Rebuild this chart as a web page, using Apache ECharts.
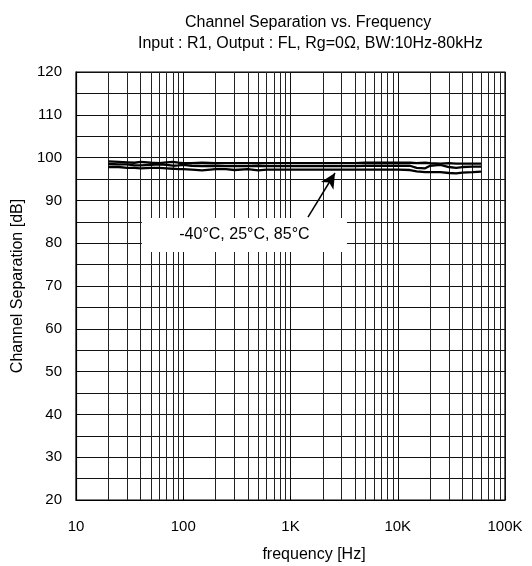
<!DOCTYPE html>
<html>
<head>
<meta charset="utf-8">
<script src="https://cdn.jsdelivr.net/npm/echarts@6/dist/echarts.min.js"></script>
<style>html,body{margin:0;padding:0;background:#fff}#c{width:532px;height:566px}</style>
</head>
<body>
<div id="c"></div>
<script>
const titleText = 'Channel Separation vs. Frequency';
const subTitleText = 'Input : R1, Output : FL, Rg=0\u03A9, BW:10Hz-80kHz';
const xName = 'frequency [Hz]';
const yName = 'Channel Separation [dB]';
const annotText = '-40\u00B0C, 25\u00B0C, 85\u00B0C';

const freqs = [20, 25, 30, 35, 40, 50, 60, 70, 80, 90, 100, 120, 150, 200, 250, 300, 400, 500, 600, 700, 800, 1000, 1500, 2000, 3000, 4000, 5000, 7000, 10000, 13000, 15000, 18000, 20000, 25000, 30000, 35000, 40000, 50000, 60000];
const sepA = [99.1, 99.0, 98.9, 98.8, 99.0, 98.8, 98.7, 98.9, 99.0, 98.8, 98.7, 98.7, 98.8, 98.7, 98.7, 98.7, 98.7, 98.7, 98.7, 98.7, 98.7, 98.7, 98.7, 98.7, 98.7, 98.7, 98.8, 98.8, 98.8, 98.8, 98.7, 98.8, 98.7, 98.6, 98.7, 98.6, 98.6, 98.6, 98.6];
const sepB = [98.5, 98.4, 98.4, 98.2, 98.2, 98.3, 98.4, 98.3, 98.1, 98.2, 98.3, 98.1, 98.0, 98.1, 98.0, 98.0, 98.0, 98.1, 98.0, 98.0, 98.0, 98.0, 98.0, 98.0, 98.0, 98.0, 98.1, 98.1, 98.1, 98.1, 97.6, 97.5, 98.1, 98.3, 97.8, 97.6, 97.8, 97.9, 97.9];
const sepC = [97.8, 97.8, 97.6, 97.6, 97.5, 97.6, 97.6, 97.5, 97.4, 97.3, 97.3, 97.2, 97.0, 97.3, 97.3, 97.1, 97.3, 97.0, 97.2, 97.2, 97.2, 97.2, 97.2, 97.2, 97.2, 97.2, 97.2, 97.2, 97.2, 97.1, 96.8, 96.6, 96.6, 96.6, 96.4, 96.3, 96.5, 96.6, 96.7];

const xTickLabels = {10: '10', 100: '100', 1000: '1K', 10000: '10K', 100000: '100K'};
const decades = [10, 100, 1000, 10000];
const minorMultipliers = [2, 3, 4, 5, 6, 7, 8, 9];

// annotation anchors in data space
const annotCenter = [372, 81.9];
const arrowFrom = [1456, 86.1];
const arrowTo = [2600, 96.4];

const minorFreqs = [];
decades.forEach(d => minorMultipliers.forEach(m => minorFreqs.push(d * m)));

const pairs = arr => freqs.map((f, i) => [f, arr[i]]);
const FONT = 'Liberation Sans, Arial, sans-serif';

const chart = echarts.init(document.getElementById('c'), null, {renderer: 'canvas'});
const lineStyle = {color: '#000', width: 2.3};
chart.setOption({
  animation: false,
  backgroundColor: '#fff',
  title: [
    {text: titleText, left: 180, top: 10, textStyle: {fontFamily: FONT, fontSize: 16, fontWeight: 'normal', color: '#000'}},
    {text: subTitleText, left: 133, top: 31, textStyle: {fontFamily: FONT, fontSize: 16, fontWeight: 'normal', color: '#000'}}
  ],
  grid: {left: 76, right: 27, top: 72, bottom: 66, show: true, borderColor: '#000', borderWidth: 1.2, backgroundColor: 'transparent', containLabel: false, outerBoundsMode: 'none'},
  xAxis: {
    type: 'log', logBase: 10, min: 10, max: 100000,
    name: xName, nameLocation: 'middle', nameGap: 47,
    nameTextStyle: {fontFamily: FONT, fontSize: 16, color: '#000', padding: [0, 0, 0, 47]},
    axisLine: {show: true, lineStyle: {color: '#000', width: 1.2}},
    axisTick: {show: true, inside: true, length: 4, lineStyle: {color: '#000'}},
    axisLabel: {fontFamily: FONT, fontSize: 15, color: '#000', margin: 19, formatter: v => xTickLabels[Math.round(v)] || ''},
    splitLine: {show: true, lineStyle: {color: '#111', width: 1}}
  },
  yAxis: {
    type: 'value', min: 20, max: 120, interval: 10,
    name: yName, nameLocation: 'middle', nameGap: 50,
    nameTextStyle: {fontFamily: FONT, fontSize: 16, color: '#000'},
    axisLine: {show: true, lineStyle: {color: '#000', width: 1.2}},
    axisTick: {show: true, inside: true, length: 4, lineStyle: {color: '#000'}},
    axisLabel: {fontFamily: FONT, fontSize: 15, color: '#000', margin: 14},
    splitLine: {show: true, lineStyle: {color: '#111', width: 1}},
    minorTick: {show: false, splitNumber: 2},
    minorSplitLine: {show: true, lineStyle: {color: '#111', width: 1}}
  },
  series: [
    {
      type: 'line', data: [], z: 1, silent: true,
      markLine: {silent: true, symbol: 'none', label: {show: false},
        lineStyle: {color: '#222', width: 1, type: 'solid'},
        data: minorFreqs.map(v => ({xAxis: v}))}
    },
    {type: 'line', name: '-40', data: pairs(sepA), showSymbol: false, symbol: 'none', lineStyle, z: 5},
    {type: 'line', name: '25', data: pairs(sepB), showSymbol: false, symbol: 'none', lineStyle, z: 5},
    {type: 'line', name: '85', data: pairs(sepC), showSymbol: false, symbol: 'none', lineStyle, z: 5},
    {
      type: 'line', data: [], z: 6, silent: true,
      markPoint: {
        silent: true,
        data: [{coord: annotCenter, symbol: 'rect', symbolSize: [205, 34], itemStyle: {color: '#fff'},
          label: {show: true, position: 'inside', formatter: annotText, fontFamily: FONT, fontSize: 16, color: '#000'}}]
      },
      markLine: {
        silent: true, symbol: ['none', 'arrow'], symbolSize: [11, 15], label: {show: false},
        lineStyle: {color: '#000', width: 1.5, type: 'solid'},
        data: [[{coord: arrowFrom}, {coord: arrowTo}]]
      }
    }
  ]
});
</script>
</body>
</html>
